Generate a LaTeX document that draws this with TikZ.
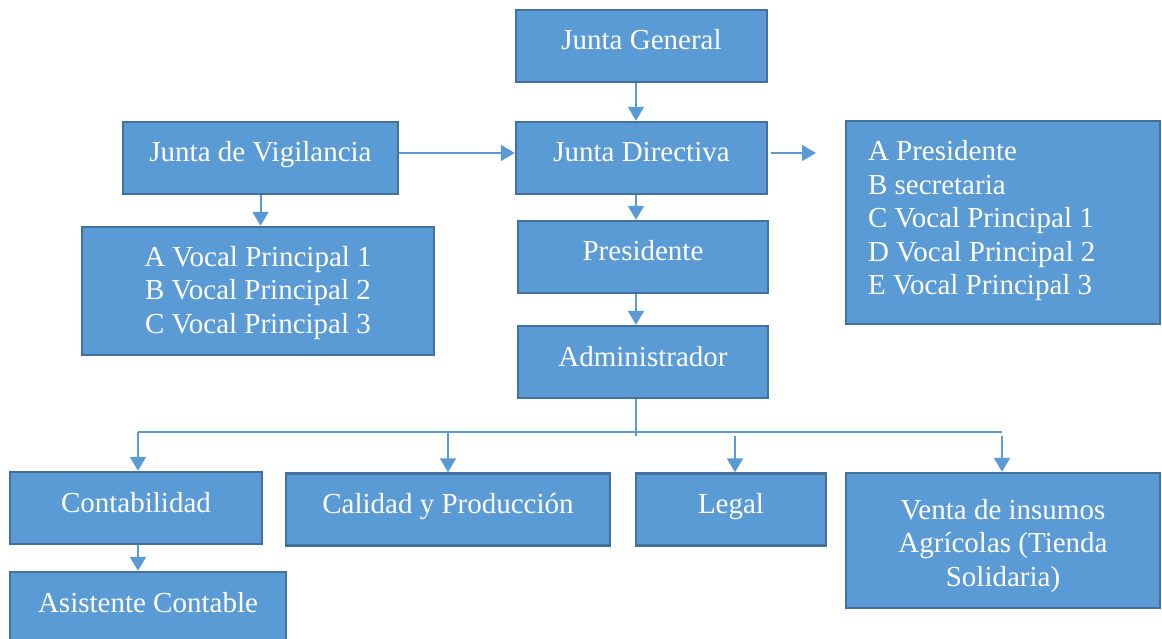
\documentclass[tikz,border=0pt]{standalone}
\usepackage{fontspec}
\setmainfont{Liberation Serif}
\usepackage{tikz}
\usetikzlibrary{arrows.meta}

\definecolor{boxfill}{HTML}{5B9BD5}
\definecolor{boxline}{HTML}{41719C}

\begin{document}
\begin{tikzpicture}[x=1pt, y=-1pt, >={Triangle[width=16pt,length=14pt]}]
	\tikzstyle{block} = [draw=boxline, fill=boxfill, rectangle, line width=2.4pt, text=white,
	  inner sep=0pt, text height=40pt, text depth=32pt, font=\fontsize{29}{33.5}\selectfont]
	\tikzstyle{link} = [draw=boxfill, line width=2pt]

	\useasboundingbox (0,0) rectangle (1162,639);

	\node [block, minimum width=251pt] (general) at (641.5,46) {Junta General};
	\node [block, minimum width=251pt] (directiva) at (641.5,158) {Junta Directiva};
	\node [block, minimum width=275pt] (vigilancia) at (260.5,158) {Junta de Vigilancia};
	\node [block, minimum width=352pt, align=center, text height=106pt, text depth=22pt] (vocales) at (258,291) {%
	  A Vocal Principal 1\\
	  B Vocal Principal 2\\
	  C Vocal Principal 3
	};
	\node [block, minimum width=250pt] (presidente) at (643,257) {Presidente};
	\node [block, minimum width=250pt] (admin) at (643,362) {Administrador};
	\node [block, text width=270pt, inner xsep=22pt, align=flush left, text height=40pt, text depth=163pt] (miembros) at (1003,222.5) {%
	  A Presidente\\
	  B secretaria\\
	  C Vocal Principal 1\\
	  D Vocal Principal 2\\
	  E Vocal Principal 3
	};
	\node [block, minimum width=252pt] (conta) at (136,508) {Contabilidad};
	\node [block, minimum width=324pt] (calidad) at (448,509.5) {Calidad y Producción};
	\node [block, minimum width=190pt] (legal) at (731,509.5) {Legal};
	\node [block, minimum width=314pt, align=center, text height=113pt, text depth=22pt] (venta) at (1003,540.5) {%
	  Venta de insumos\\
	  Agrícolas (Tienda\\
	  Solidaria)
	};
	\node [block, minimum width=276pt] (asistente) at (148,608) {Asistente Contable};

	% connectors
	\coordinate (spine) at (636,0);
	\coordinate (out) at (816,153);
	\coordinate (busL) at (138,432);
	\coordinate (busR) at (1002,432);
	\coordinate (busA) at (636,436);

	\draw [link, ->] (general.south -| spine) -- (directiva.north -| spine);
	\draw [link, ->] ([yshift=5pt]vigilancia.east) -- ([yshift=5pt]directiva.west);
	\draw [link, ->] ([xshift=3pt, yshift=5pt]directiva.east) -- (out);
	\draw [link, ->] (vigilancia.south) -- (vocales.north -| vigilancia.south);
	\draw [link, ->] (directiva.south -| spine) -- (presidente.north -| spine);
	\draw [link, ->] (presidente.south -| spine) -- (admin.north -| spine);
	\draw [link] (admin.south -| spine) -- (busA);
	\draw [link] (busL) -- (busR);
	\draw [link, ->] (busL) -- (conta.north -| busL);
	\draw [link, ->] (calidad.north |- busL) -- (calidad.north);
	\draw [link, ->] ([xshift=4pt]legal.north |- busA) -- ([xshift=4pt]legal.north);
	\draw [link, ->] (busR |- busA) -- (venta.north -| busR);
	\draw [link, ->] (busL |- conta.south) -- (asistente.north -| busL);
\end{tikzpicture}
\end{document}
